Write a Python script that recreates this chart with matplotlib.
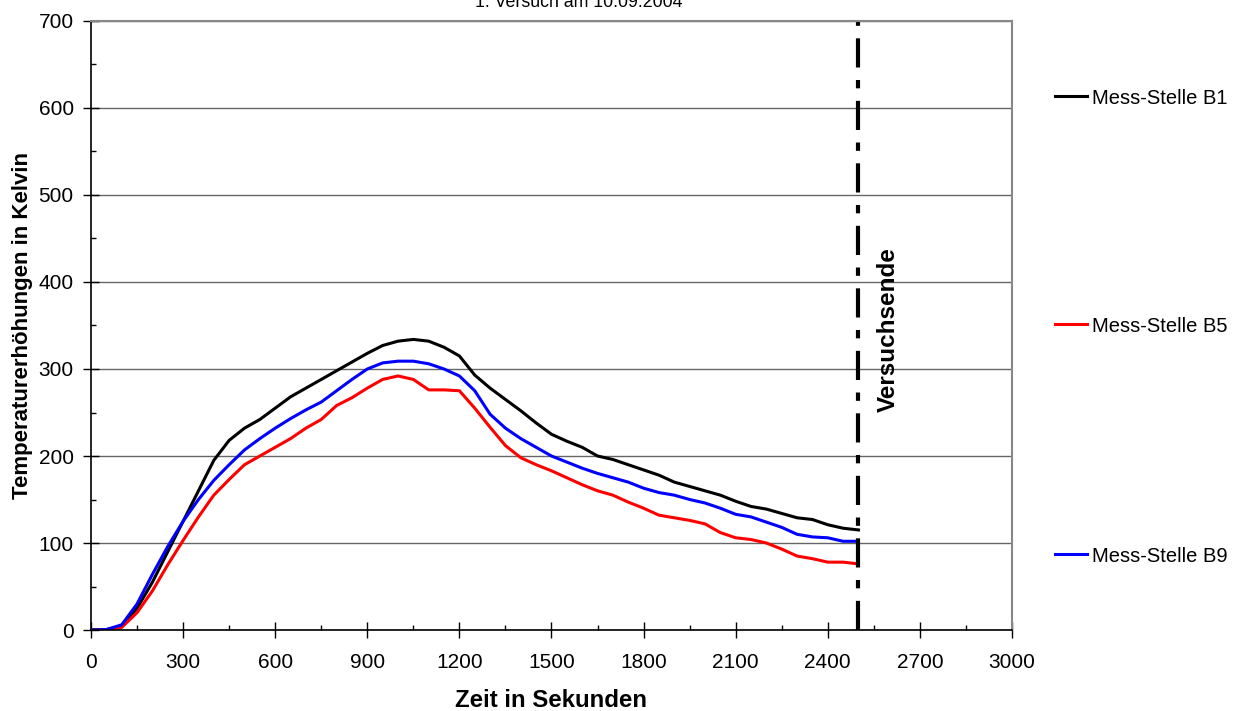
import matplotlib.pyplot as plt
from matplotlib.ticker import MultipleLocator
import numpy as np

plt.rcParams['font.family'] = ['Liberation Sans', 'DejaVu Sans']

# Zeitpunkte in Sekunden
zeit = np.arange(0, 2501, 50)

# Temperaturerhoehungen
b1 = [0, 0.5, 5, 25, 55, 90, 125, 160, 195, 218, 232, 242, 255, 268, 278, 288,
      298, 308, 318, 327, 332, 334, 332, 325, 315, 293, 278, 265, 252, 238, 225,
      217, 210, 200, 196, 190, 184, 178, 170, 165, 160, 155, 148, 142, 139, 134,
      129, 127, 121, 117, 115]
b5 = [0, 0, 3, 20, 45, 75, 103, 130, 155, 173, 190, 200, 210, 220, 232, 242,
      258, 267, 278, 288, 292, 288, 276, 276, 275, 255, 233, 212, 198, 190, 183,
      175, 167, 160, 155, 147, 140, 132, 129, 126, 122, 112, 106, 104, 100, 93,
      85, 82, 78, 78, 76]
b9 = [0, 0.5, 6, 30, 64, 96, 125, 150, 172, 190, 207, 220, 232, 243, 253, 262,
      275, 288, 300, 307, 309, 309, 306, 300, 292, 275, 248, 232, 220, 210, 200,
      193, 186, 180, 175, 170, 163, 158, 155, 150, 146, 140, 133, 130, 124, 118,
      110, 107, 106, 102, 102]

versuchsende = 2500

fig = plt.figure(figsize=(12.4, 7.11), dpi=100)
ax = fig.add_axes([0.0734, 0.1139, 0.7427, 0.8566])

l1, = ax.plot(zeit, b1, color='black', lw=2.2, label='Mess-Stelle B1')
l5, = ax.plot(zeit, b5, color='#ff0000', lw=2.2, label='Mess-Stelle B5')
l9, = ax.plot(zeit, b9, color='#0000ff', lw=2.2, label='Mess-Stelle B9')

ax.axvline(versuchsende, color='black', lw=3, dashes=(7, 3, 2, 3))
ax.text(2596, 345, 'Versuchsende', rotation=90, ha='center', va='center',
        fontsize=17.5, fontweight='bold')

ax.set_xlim(0, 3000)
ax.set_ylim(0, 700)
ax.xaxis.set_major_locator(MultipleLocator(300))
ax.xaxis.set_minor_locator(MultipleLocator(150))
ax.yaxis.set_major_locator(MultipleLocator(100))
ax.yaxis.set_minor_locator(MultipleLocator(50))
ax.tick_params(which='major', direction='inout', length=11, width=1, labelsize=15)
ax.tick_params(axis='x', which='major', pad=11)
ax.tick_params(axis='y', which='major', pad=7)
ax.tick_params(which='minor', direction='in', length=3.6, width=1)
ax.grid(axis='y', which='major', color='#666666', lw=1)
ax.set_axisbelow(True)
for s in ['top', 'right']:
    ax.spines[s].set_color('#888888')
    ax.spines[s].set_linewidth(1.5)
for s in ['left', 'bottom']:
    ax.spines[s].set_linewidth(1.2)

ax.set_xlabel('Zeit in Sekunden', fontsize=17.3, fontweight='bold', labelpad=12)
ax.set_ylabel('Temperaturerhöhungen in Kelvin', fontsize=16, fontweight='bold', labelpad=4)

fig.text(579 / 1240, 1 - 2.5 / 711, '1. Versuch am 10.09.2004', ha='center',
         va='center', fontsize=12.8)

for h, ypix in [(l1, 98), (l5, 326), (l9, 556)]:
    fig.legend(handles=[h], loc='center left', frameon=False, fontsize=14.5,
               handlelength=1.6, handletextpad=0.25, borderpad=0, borderaxespad=0,
               bbox_to_anchor=(1055 / 1240, 1 - ypix / 711))

fig.savefig('out.png', dpi=100)
